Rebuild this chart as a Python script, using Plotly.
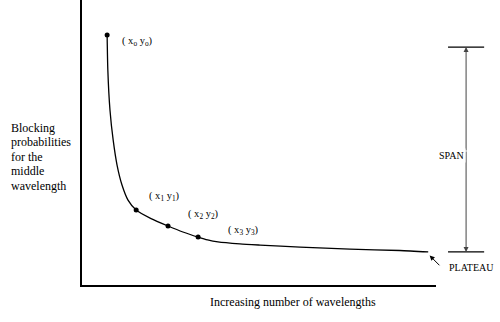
import plotly.graph_objects as go

# Curve (schematic) in data units: x 0..100, y 0..1
curve_x = [7.1, 7.3, 7.9, 8.8, 9.9, 11.3, 13.0, 15.3, 19.5, 24.3, 28.5, 32.8, 35.5, 38.4, 44.6, 50.3, 61.6, 75.7, 89.8, 97.8]
curve_y = [0.877, 0.754, 0.614, 0.509, 0.421, 0.351, 0.298, 0.263, 0.233, 0.207, 0.186, 0.168, 0.158, 0.151, 0.144, 0.140, 0.133, 0.126, 0.121, 0.116]

pts_x = [7.1, 15.3, 24.3, 32.8]
pts_y = [0.877, 0.263, 0.207, 0.168]
pt_labels = ["( x<sub>o</sub> y<sub>o</sub>)", "( x<sub>1</sub> y<sub>1</sub>)",
             "( x<sub>2</sub> y<sub>2</sub>)", "( x<sub>3</sub> y<sub>3</sub>)"]
label_dx = [8.6, 8.1, 10.0, 12.8]
label_dy = [-0.024, 0.046, 0.039, 0.025]

ylabel_lines = ["Blocking", "probabilities", "for the", "middle", "wavelength"]
xlabel = "Increasing number of wavelengths"

span_top = 0.835
plateau = 0.116

FONT = "Liberation Serif"

fig = go.Figure()
fig.add_trace(go.Scatter(x=curve_x, y=curve_y, mode="lines",
                         line=dict(color="black", width=1.3, shape="spline", smoothing=0.6),
                         hoverinfo="skip", showlegend=False))
fig.add_trace(go.Scatter(x=pts_x, y=pts_y, mode="markers",
                         marker=dict(color="black", size=5), showlegend=False))

ann = []
for x, y, t, dx, dy in zip(pts_x, pts_y, pt_labels, label_dx, label_dy):
    ann.append(dict(x=x + dx, y=y + dy, text=t, showarrow=False, xref="x", yref="y",
                    font=dict(family=FONT, size=10.5, color="black")))

span_x = 1.085
shapes = [
    dict(type="line", xref="paper", yref="y", x0=1.034, x1=1.136, y0=span_top, y1=span_top,
         line=dict(color="black", width=1.2)),
    dict(type="line", xref="paper", yref="y", x0=1.034, x1=1.136, y0=plateau, y1=plateau,
         line=dict(color="black", width=1.2)),
]
ann.append(dict(x=span_x, y=span_top, xref="paper", yref="y", ax=0, ay=105, axref="pixel", ayref="pixel",
                showarrow=True, arrowhead=2, arrowsize=1, arrowwidth=1, arrowcolor="#444", text=""))
ann.append(dict(x=span_x, y=plateau, xref="paper", yref="y", ax=0, ay=-102, axref="pixel", ayref="pixel",
                showarrow=True, arrowhead=2, arrowsize=1, arrowwidth=1, arrowcolor="#444", text=""))
ann.append(dict(x=span_x, y=0.453, xref="paper", yref="y", text="SPAN", showarrow=False,
                bgcolor="white", font=dict(family=FONT, size=10, color="black")))
ann.append(dict(x=curve_x[-1] + 0.2, y=plateau - 0.01, xref="x", yref="y", ax=12, ay=12,
                showarrow=True, arrowhead=2, arrowsize=1, arrowwidth=1, arrowcolor="black", text="",
                standoff=1))
ann.append(dict(x=1.032, y=0.06, xref="paper", yref="y", text="PLATEAU", showarrow=False,
                xanchor="left", font=dict(family=FONT, size=10, color="black")))
# y label, one line per annotation for tight spacing
ly0 = 0.551
for i, line in enumerate(ylabel_lines):
    ann.append(dict(x=-0.207, y=ly0 - i * 0.0505, xref="paper", yref="y", xanchor="left",
                    text=line, showarrow=False, font=dict(family=FONT, size=12, color="black")))
ann.append(dict(x=0.596, y=-0.091, xref="paper", yref="paper",
                text=xlabel, showarrow=False,
                font=dict(family=FONT, size=12, color="black")))

fig.update_layout(
    width=500, height=322,
    margin=dict(l=82, r=64, t=0, b=37),
    paper_bgcolor="white", plot_bgcolor="white",
    xaxis=dict(range=[0, 100], showgrid=False, zeroline=False, showticklabels=False, ticks="",
               showline=True, linecolor="black", linewidth=1.5),
    yaxis=dict(range=[0, 1], showgrid=False, zeroline=False, showticklabels=False, ticks="",
               showline=True, linecolor="black", linewidth=1.5),
    shapes=shapes, annotations=ann, showlegend=False,
)

fig.write_html("out.html", config={"displayModeBar": False},
               post_script="document.body.style.margin='0';document.body.style.overflow='hidden';")
